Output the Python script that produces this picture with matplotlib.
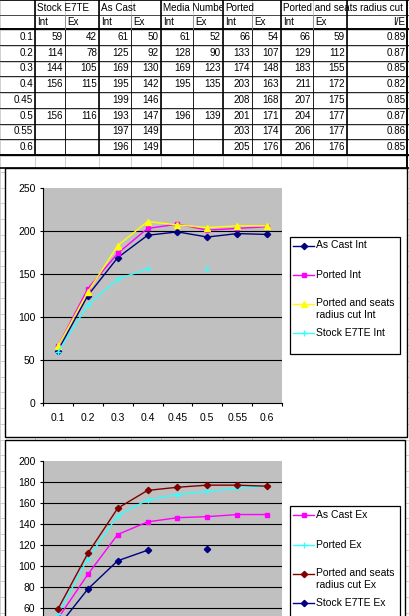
import numpy as np
import matplotlib.pyplot as plt
from matplotlib.patches import Rectangle

W, H = 409, 616
plt.rcParams['font.family'] = ['Liberation Sans', 'DejaVu Sans']

# data, as typed into the sheet
lift = ['0.1', '0.2', '0.3', '0.4', '0.45', '0.5', '0.55', '0.6']
stock_int = [59, 114, 144, 156, None, 156, None, None]
stock_ex = [42, 78, 105, 115, None, 116, None, None]
cast_int = [61, 125, 169, 195, 199, 193, 197, 196]
cast_ex = [50, 92, 130, 142, 146, 147, 149, 149]
media_int = [61, 128, 169, 195, None, 196, None, None]
media_ex = [52, 90, 123, 135, None, 139, None, None]
ported_int = [66, 133, 174, 203, 208, 201, 203, 205]
ported_ex = [54, 107, 148, 163, 168, 171, 174, 176]
seats_int = [66, 129, 183, 211, 207, 204, 206, 206]
seats_ex = [59, 112, 155, 172, 175, 177, 177, 176]
ie_ratio = ['0.89', '0.87', '0.85', '0.82', '0.85', '0.87', '0.86', '0.85']
groups = ['Stock E7TE', 'As Cast', 'Media Number', 'Ported', 'Ported and seats radius cut']

NAVY, MAG, YEL, CYAN, DRED = '#000080', '#FF00FF', '#FFFF00', '#33FFFF', '#800000'

int_series = [
    ('As Cast Int', cast_int, NAVY, 'D', 3.2),
    ('Ported Int', ported_int, MAG, 's', 3.5),
    ('Ported and seats\nradius cut Int', seats_int, YEL, '^', 4.5),
    ('Stock E7TE Int', stock_int, CYAN, '+', 4),
]
ex_series = [
    ('As Cast Ex', cast_ex, MAG, 's', 3.5),
    ('Ported Ex', ported_ex, CYAN, '+', 4),
    ('Ported and seats\nradius cut Ex', seats_ex, DRED, 'D', 3.2),
    ('Stock E7TE Ex', stock_ex, NAVY, 'D', 3.2),
]

FS = 7.1
col_x = [0, 35, 65, 99, 131, 161, 193, 223, 252, 281, 313, 347, 409]
row_y = [0, 15, 29] + [29 + 15.75 * (i + 1) for i in range(8)]

fig = plt.figure(figsize=(W / 100, H / 100), dpi=100)
fig.patch.set_facecolor('white')
bg = fig.add_axes([0, 0, 1, 1])
bg.set_xlim(0, W)
bg.set_ylim(H, 0)
bg.axis('off')

# sheet gridlines
y = 0
while y < H:
    bg.plot([0, W], [y, y], color='#C8C8C8', lw=0.6)
    y += 15.75 if y >= 29 else 15
for x in col_x:
    bg.plot([x, x], [0, H], color='#C8C8C8', lw=0.6)

# table borders
for i, yy in enumerate(row_y):
    lw = 1.4 if yy in (29, row_y[-1]) else 0.6
    bg.plot([0, W], [yy, yy], color='black', lw=lw)
bg.plot([0, W], [15, 15], color='#555555', lw=0.6)
bg.plot([0, W], [168, 168], color='black', lw=1.2)
thick = [35, 99, 161, 223, 281, 347]
for x in col_x[1:]:
    lw = 1.2 if x in thick else 0.6
    bg.plot([x, x], [29, row_y[-1]], color='black', lw=lw)
    if x in thick or x == 409:
        bg.plot([x, x], [0, 29], color='black', lw=lw)
    else:
        bg.plot([x, x], [15, 29], color='#888888', lw=0.6)
bg.plot([407, 407], [0, 170], color='black', lw=1.4)

# header text
for g, x0, x1 in zip(groups, [35, 99, 161, 223, 281], [99, 161, 223, 281, 409]):
    t = bg.text(x0 + 2, 8, g, fontsize=FS, va='center', ha='left', clip_on=True)
    t.set_clip_path(Rectangle((x0, 0), x1 - x0 - 1, 15, transform=bg.transData))
for x in col_x[1:11]:
    idx = col_x.index(x)
    bg.text(x + 2, 22, 'Int' if idx % 2 == 1 else 'Ex', fontsize=FS, va='center', ha='left')
bg.text(405, 22, 'I/E', fontsize=FS, va='center', ha='right')

cols = [stock_int, stock_ex, cast_int, cast_ex, media_int, media_ex,
        ported_int, ported_ex, seats_int, seats_ex]
for r in range(8):
    yc = (row_y[r + 2] + row_y[r + 3]) / 2
    bg.text(33, yc, lift[r], fontsize=FS, va='center', ha='right')
    for c, vals in enumerate(cols):
        if vals[r] is not None:
            bg.text(col_x[c + 2] - 2, yc, str(vals[r]), fontsize=FS, va='center', ha='right')
    bg.text(406, yc, ie_ratio[r], fontsize=FS, va='center', ha='right')

# chart panels
bg.add_patch(Rectangle((5, 168), 402, 269, facecolor='white', edgecolor='black', lw=1.0, zorder=5))
bg.add_patch(Rectangle((5, 440), 400, 200, facecolor='white', edgecolor='black', lw=1.0, zorder=5))


def px_box(x0, y0, x1, y1):
    return [x0 / W, 1 - y1 / H, (x1 - x0) / W, (y1 - y0) / H]


def draw_chart(box, series, ymax, step, ymin_shown=0):
    ax = fig.add_axes(px_box(*box))
    ax.set_facecolor('#C0C0C0')
    x = np.arange(len(lift))
    for name, vals, color, mk, ms in series:
        v = np.array([np.nan if a is None else a for a in vals], dtype=float)
        ax.plot(x, v, color=color, lw=1.0, marker=mk, ms=ms, mew=1.0, zorder=3)
    ax.set_xlim(-0.5, len(lift) - 0.5)
    ax.set_ylim(0, ymax)
    ticks = np.arange(0, ymax + 1, step)
    ax.set_yticks(ticks)
    ax.set_yticklabels([str(t) if t >= ymin_shown else '' for t in ticks])
    ax.set_xticks(x)
    ax.set_xticklabels(lift)
    ax.set_xticks(np.arange(len(lift) + 1) - 0.5, minor=True)
    ax.tick_params(axis='x', which='major', length=0, pad=7, labelsize=7.5,
                   labelbottom=(ymin_shown == 0))
    ax.tick_params(axis='x', which='minor', length=2.5, width=0.8, direction='out')
    ax.tick_params(axis='y', length=2.5, width=0.8, pad=3, labelsize=7.5)
    ax.yaxis.grid(True, color='black', lw=0.8)
    ax.get_ygridlines()[-1].set_visible(False)
    ax.get_ygridlines()[0].set_visible(False)
    ax.set_axisbelow(True)
    for s in ['top', 'right']:
        ax.spines[s].set_visible(False)
    for s in ['left', 'bottom']:
        ax.spines[s].set_linewidth(0.8)
    return ax


def draw_legend(x0, y0, y1, series, ys):
    bg.add_patch(Rectangle((x0, y0), 110, y1 - y0, facecolor='white', edgecolor='black', lw=0.9, zorder=6))
    for (name, vals, color, mk, ms), yy in zip(series, ys):
        bg.plot([293, 314], [yy, yy], color=color, lw=1.0, zorder=7)
        bg.plot([303.5], [yy], marker=mk, ms=ms, mew=1.0, color=color, zorder=7)
        bg.text(316, yy - 5.5, name, fontsize=7.5, va='top', ha='left', linespacing=1.25, zorder=7)


draw_chart((43, 188, 282, 403), int_series, 250, 50)
# lower chart runs past the bottom of the screenshot
draw_chart((43, 461, 282, 671), ex_series, 200, 20, ymin_shown=60)
draw_legend(290, 237, 354, int_series, [246, 275, 304, 333])
draw_legend(290, 506, 660, ex_series, [515, 545, 574, 603])

fig.savefig('out.png', dpi=100)
